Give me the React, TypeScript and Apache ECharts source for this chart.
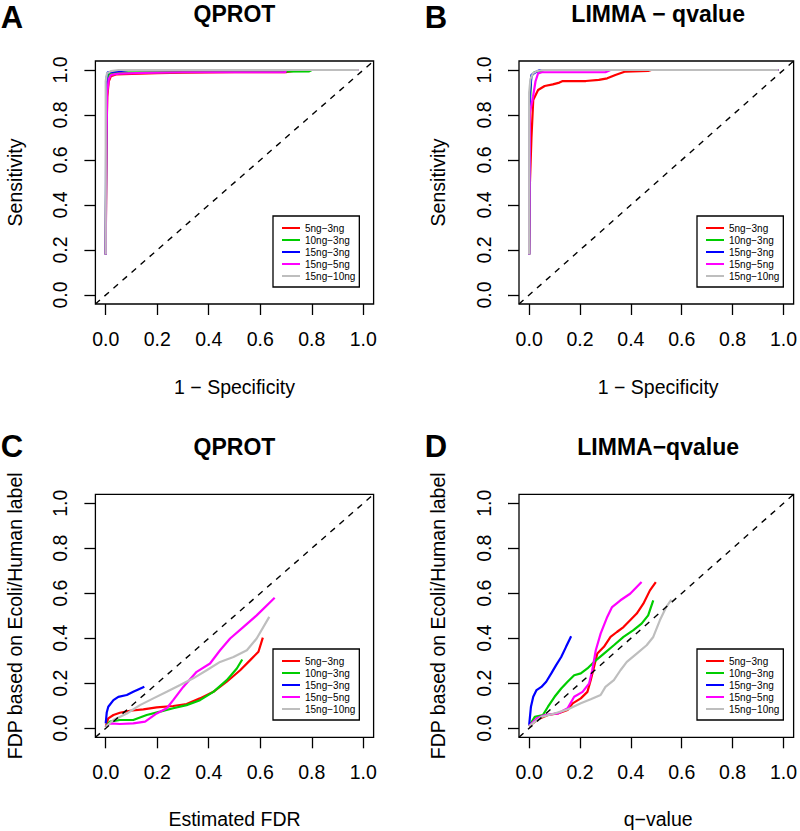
import React, { useEffect, useRef } from "react";
import * as echarts from "echarts";

// ---------- data ----------
const TICKS = [0, 0.2, 0.4, 0.6, 0.8, 1.0];
const TICK_LABELS = ["0.0", "0.2", "0.4", "0.6", "0.8", "1.0"];
const SERIES_NAMES = ["5ng−3ng", "10ng−3ng", "15ng−3ng", "15ng−5ng", "15ng−10ng"];
const SERIES_COLORS = ["#FF0000", "#00CD00", "#0000FF", "#FF00FF", "#BEBEBE"];
const DIAGONAL = [[-0.04, -0.04], [1.04, 1.04]];

// Panel A: QPROT ROC (x = 1 - specificity, y = sensitivity)
const A_RED = [[0, 0.18], [0.003, 0.7], [0.006, 0.88], [0.012, 0.95], [0.02, 0.972], [0.04, 0.98], [0.1, 0.983], [0.2, 0.986], [0.3, 0.988], [0.5, 0.99], [0.7, 0.99], [0.75, 1], [0.98, 1]];
const A_GREEN = [[0, 0.18], [0.003, 0.8], [0.006, 0.95], [0.012, 0.98], [0.03, 0.988], [0.2, 0.99], [0.4, 0.992], [0.79, 0.994], [0.8, 1], [0.98, 1]];
const A_BLUE = [[0, 0.18], [0.002, 0.8], [0.004, 0.97], [0.008, 0.99], [0.03, 0.993], [0.06, 0.996], [0.088, 1], [0.98, 1]];
const A_MAGENTA = [[0, 0.18], [0.003, 0.7], [0.006, 0.9], [0.012, 0.96], [0.02, 0.978], [0.05, 0.984], [0.15, 0.987], [0.3, 0.99], [0.697, 0.99], [0.7, 1], [0.98, 1]];
const A_GREY = [[0, 0.18], [0, 0.95], [0.005, 0.985], [0.02, 0.995], [0.05, 1], [0.98, 1]];

// Panel B: LIMMA - qvalue ROC
const B_RED = [[0, 0.18], [0.003, 0.5], [0.009, 0.7], [0.016, 0.867], [0.035, 0.911], [0.061, 0.929], [0.093, 0.936], [0.119, 0.944], [0.132, 0.951], [0.223, 0.951], [0.274, 0.956], [0.307, 0.963], [0.339, 0.978], [0.378, 0.993], [0.468, 0.996], [0.48, 1], [0.98, 1]];
const B_GREEN = [[0, 0.18], [0.003, 0.85], [0.008, 0.97], [0.02, 0.99], [0.04, 0.995], [0.06, 1], [0.98, 1]];
const B_BLUE = [[0, 0.18], [0.003, 0.9], [0.009, 0.978], [0.025, 0.99], [0.042, 1], [0.98, 1]];
const B_MAGENTA = [[0, 0.18], [0.003, 0.81], [0.015, 0.88], [0.025, 0.95], [0.035, 0.985], [0.05, 0.99], [0.3, 0.99], [0.32, 1], [0.98, 1]];
const B_GREY = [[0, 0.18], [0, 0.9], [0.005, 0.96], [0.015, 0.985], [0.03, 0.995], [0.05, 1], [0.98, 1]];

// Panel C: QPROT estimated FDR vs FDP
const C_RED = [[0, 0.007], [0.01, 0.044], [0.03, 0.059], [0.055, 0.069], [0.094, 0.078], [0.146, 0.084], [0.198, 0.093], [0.262, 0.099], [0.314, 0.108], [0.366, 0.133], [0.418, 0.162], [0.47, 0.207], [0.522, 0.258], [0.561, 0.303], [0.593, 0.34], [0.61, 0.403]];
const C_GREEN = [[0, 0.007], [0.017, 0.03], [0.055, 0.037], [0.107, 0.037], [0.159, 0.059], [0.211, 0.074], [0.262, 0.089], [0.314, 0.103], [0.366, 0.125], [0.418, 0.162], [0.47, 0.214], [0.509, 0.266], [0.53, 0.306]];
const C_BLUE = [[0, 0.022], [0.004, 0.07], [0.01, 0.096], [0.03, 0.125], [0.049, 0.14], [0.082, 0.148], [0.107, 0.162], [0.15, 0.185]];
const C_MAGENTA = [[0, 0.007], [0.017, 0.022], [0.055, 0.019], [0.107, 0.022], [0.153, 0.03], [0.198, 0.066], [0.237, 0.089], [0.262, 0.125], [0.301, 0.184], [0.353, 0.251], [0.405, 0.288], [0.444, 0.347], [0.483, 0.399], [0.534, 0.45], [0.586, 0.502], [0.656, 0.58]];
const C_GREY = [[0, 0.007], [0.03, 0.037], [0.082, 0.066], [0.133, 0.103], [0.185, 0.133], [0.237, 0.162], [0.289, 0.192], [0.34, 0.222], [0.392, 0.258], [0.444, 0.295], [0.496, 0.317], [0.548, 0.347], [0.586, 0.399], [0.635, 0.495]];

// Panel D: LIMMA-qvalue q-value vs FDP
const D_RED = [[0, 0.01], [0.035, 0.04], [0.074, 0.059], [0.113, 0.066], [0.151, 0.081], [0.171, 0.111], [0.203, 0.133], [0.229, 0.162], [0.242, 0.214], [0.255, 0.273], [0.268, 0.332], [0.294, 0.362], [0.32, 0.406], [0.345, 0.428], [0.371, 0.45], [0.397, 0.48], [0.423, 0.51], [0.449, 0.554], [0.475, 0.613], [0.498, 0.65]];
const D_GREEN = [[0, 0.01], [0.022, 0.051], [0.054, 0.059], [0.074, 0.096], [0.1, 0.14], [0.126, 0.177], [0.151, 0.207], [0.177, 0.236], [0.203, 0.244], [0.229, 0.266], [0.255, 0.295], [0.294, 0.332], [0.333, 0.369], [0.371, 0.406], [0.41, 0.436], [0.442, 0.465], [0.468, 0.502], [0.488, 0.569]];
const D_BLUE = [[0, 0.015], [0.007, 0.096], [0.016, 0.14], [0.029, 0.17], [0.048, 0.184], [0.067, 0.207], [0.087, 0.244], [0.106, 0.281], [0.126, 0.317], [0.145, 0.362], [0.165, 0.409]];
const D_MAGENTA = [[0, 0.01], [0.03, 0.045], [0.061, 0.059], [0.113, 0.066], [0.151, 0.089], [0.177, 0.14], [0.21, 0.162], [0.236, 0.2], [0.248, 0.258], [0.262, 0.347], [0.281, 0.421], [0.307, 0.495], [0.326, 0.539], [0.359, 0.569], [0.397, 0.598], [0.423, 0.628], [0.442, 0.65]];
const D_GREY = [[0, 0.01], [0.048, 0.051], [0.1, 0.066], [0.151, 0.084], [0.203, 0.111], [0.242, 0.129], [0.281, 0.148], [0.3, 0.184], [0.333, 0.214], [0.359, 0.258], [0.384, 0.295], [0.423, 0.332], [0.462, 0.369], [0.488, 0.406], [0.514, 0.48], [0.539, 0.539], [0.559, 0.572]];

const FONT = "'Liberation Sans', Arial, Helvetica, sans-serif";

const PANELS = [
  { letter: "A", title: "QPROT", xName: "1 − Specificity", yName: "Sensitivity", data: [A_RED, A_GREEN, A_BLUE, A_MAGENTA, A_GREY],
    grid: { left: 95.4, top: 61, width: 278.2, height: 243 }, legend: { left: 273, top: 216 }, letterX: 12, letterY: 17, titleY: 13.8, xNameY: 387, yNameX: 14.5 },
  { letter: "B", title: "LIMMA − qvalue", xName: "1 − Specificity", yName: "Sensitivity", data: [B_RED, B_GREEN, B_BLUE, B_MAGENTA, B_GREY],
    grid: { left: 519, top: 61, width: 278.3, height: 243 }, legend: { left: 697, top: 216 }, letterX: 436, letterY: 17, titleY: 13.8, xNameY: 387, yNameX: 437.5 },
  { letter: "C", title: "QPROT", xName: "Estimated FDR", yName: "FDP based on Ecoli/Human label", data: [C_RED, C_GREEN, C_BLUE, C_MAGENTA, C_GREY],
    grid: { left: 95.4, top: 494.3, width: 278.2, height: 243 }, legend: { left: 273, top: 649 }, letterX: 12, letterY: 446.5, titleY: 446.5, xNameY: 819, yNameX: 14.5 },
  { letter: "D", title: "LIMMA−qvalue", xName: "q−value", yName: "FDP based on Ecoli/Human label", data: [D_RED, D_GREEN, D_BLUE, D_MAGENTA, D_GREY],
    grid: { left: 519, top: 494.3, width: 278.3, height: 243 }, legend: { left: 697, top: 649 }, letterX: 436, letterY: 446, titleY: 446.5, xNameY: 819, yNameX: 437.5 },
];

function buildOption() {
  const grids: any[] = [];
  const xAxes: any[] = [];
  const yAxes: any[] = [];
  const series: any[] = [];
  const legends: any[] = [];
  const graphics: any[] = [];
  const fmt = (v: number) => {
    const i = TICKS.findIndex((t) => Math.abs(t - v) < 1e-9);
    return i >= 0 ? TICK_LABELS[i] : "";
  };
  PANELS.forEach((p, i) => {
    grids.push({ ...p.grid, show: true, borderColor: "#000", borderWidth: 1.3, backgroundColor: "transparent", containLabel: false });
    const axisCommon = {
      type: "value",
      gridIndex: i,
      min: -0.04,
      max: 1.04,
      axisLine: { show: false, onZero: false },
      splitLine: { show: false },
      axisTick: { show: true, customValues: TICKS, length: 11, lineStyle: { color: "#000", width: 1.3 } },
    };
    xAxes.push({ ...axisCommon, position: "bottom",
      axisLabel: { customValues: TICKS, formatter: fmt, margin: 25, fontSize: 19.5, color: "#000", fontFamily: FONT } });
    yAxes.push({ ...axisCommon, position: "left",
      axisLabel: { customValues: TICKS, formatter: fmt, margin: 25, rotate: 90, fontSize: 19.5, color: "#000", fontFamily: FONT } });
    p.data.forEach((d, k) => {
      series.push({
        type: "line", name: SERIES_NAMES[k], xAxisIndex: i, yAxisIndex: i, data: d,
        symbol: "none", showSymbol: false, silent: true,
        lineStyle: { color: SERIES_COLORS[k], width: 2.2 },
        itemStyle: { color: SERIES_COLORS[k] },
      });
    });
    series.push({
      type: "line", name: "diag" + i, xAxisIndex: i, yAxisIndex: i, data: DIAGONAL, symbol: "none", silent: true, z: 3,
      lineStyle: { color: "#000", width: 1.4, type: [6, 6] },
    });
    legends.push({
      left: p.legend.left, top: p.legend.top, orient: "vertical", data: SERIES_NAMES,
      icon: "rect", itemWidth: 18, itemHeight: 2, itemGap: 0, itemTextGap: 8,
      padding: [6, 4, 5, 9], borderColor: "#000", borderWidth: 1.3, backgroundColor: "#fff",
      selectedMode: false,
      textStyle: { fontSize: 10, lineHeight: 12, color: "#000", fontFamily: FONT },
    });
    const cx = p.grid.left + p.grid.width / 2;
    const cy = p.grid.top + p.grid.height / 2;
    graphics.push(
      { type: "text", x: p.letterX, y: p.letterY, style: { text: p.letter, font: `bold 31px ${FONT}`, fill: "#000", align: "center", verticalAlign: "middle" } },
      { type: "text", x: cx, y: p.titleY, style: { text: p.title, font: `bold 23px ${FONT}`, fill: "#000", align: "center", verticalAlign: "middle" } },
      { type: "text", x: cx, y: p.xNameY, style: { text: p.xName, font: `19.5px ${FONT}`, fill: "#000", align: "center", verticalAlign: "middle" } },
      { type: "text", x: p.yNameX, y: cy, rotation: Math.PI / 2, style: { text: p.yName, font: `19.5px ${FONT}`, fill: "#000", align: "center", verticalAlign: "middle" } },
    );
  });
  return {
    animation: false,
    backgroundColor: "#fff",
    textStyle: { fontFamily: FONT },
    grid: grids,
    xAxis: xAxes,
    yAxis: yAxes,
    legend: legends,
    series,
    graphic: graphics,
  };
}

export default function App() {
  const ref = useRef<HTMLDivElement>(null);
  useEffect(() => {
    document.body.style.margin = "0";
    const chart = echarts.init(ref.current!, null, { renderer: "svg" });
    chart.setOption(buildOption() as any);
    return () => chart.dispose();
  }, []);
  return <div ref={ref} style={{ position: "absolute", left: 0, top: 0, width: 800, height: 831 }} />;
}
